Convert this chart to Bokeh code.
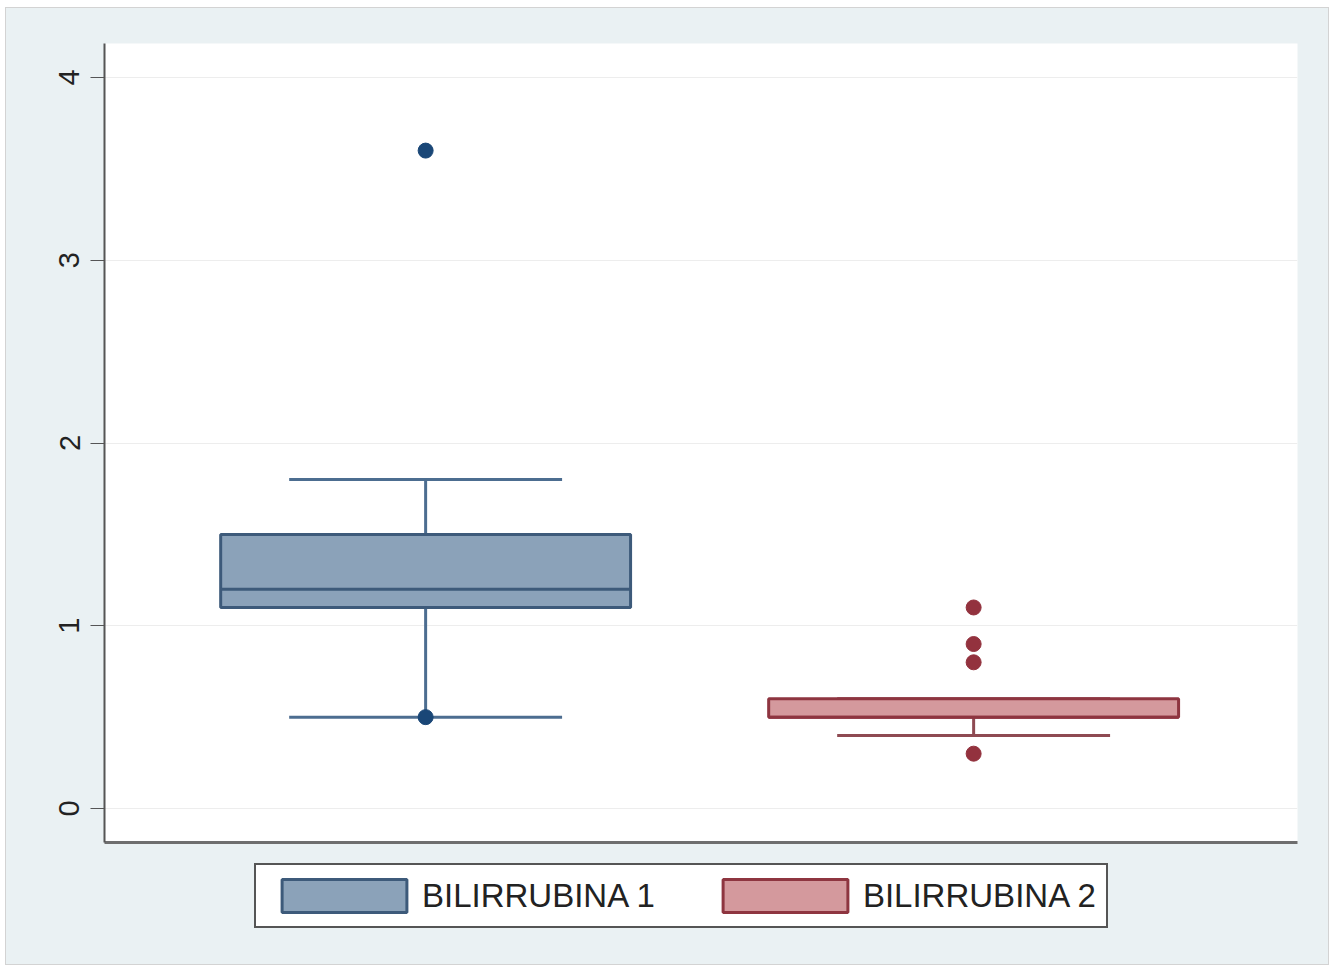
from bokeh.plotting import figure
from bokeh.layouts import column
from bokeh.models import (ColumnDataSource, Range1d, FixedTicker, Legend, LegendItem)
from bokeh.embed import file_html
from bokeh.resources import INLINE

# ---- data ----
series = ["BILIRRUBINA 1", "BILIRRUBINA 2"]
positions = [1, 2]
q1 = [1.1, 0.5]
median = [1.2, 0.5]
q3 = [1.5, 0.6]
lower_whisker = [0.5, 0.4]
upper_whisker = [1.8, 0.6]
outliers_1 = [3.6, 0.5]
outliers_2 = [1.1, 0.9, 0.8, 0.3]
y_ticks = [0, 1, 2, 3, 4]

fills = ["#8BA2B9", "#D4999D"]
edges = ["#3D5A7A", "#8E3540"]
whisk = ["#4C6D90", "#8E4A52"]
dots = ["#1A4777", "#93323E"]
outer_bg = "#EAF1F3"

box_w = 0.748
cap_w = 0.498

p = figure(width=1322, height=844, output_backend="svg", toolbar_location=None,
           x_range=Range1d(0.414, 2.591), y_range=Range1d(-0.186, 4.186),
           min_border_left=98, min_border_right=31, min_border_top=35, min_border_bottom=10)
p.background_fill_color = "white"
p.border_fill_color = outer_bg
p.outline_line_color = None

src = ColumnDataSource(dict(x=positions, q1=q1, q3=q3, med=median, lw=lower_whisker,
                            uw=upper_whisker, fill=fills, edge=edges, wc=whisk,
                            cl=[x - cap_w / 2 for x in positions],
                            cr=[x + cap_w / 2 for x in positions],
                            bl=[x - box_w / 2 for x in positions],
                            br=[x + box_w / 2 for x in positions]))

# whiskers
p.segment(x0="x", y0="q3", x1="x", y1="uw", source=src, line_color="wc", line_width=3)
p.segment(x0="x", y0="q1", x1="x", y1="lw", source=src, line_color="wc", line_width=3)
# caps
p.segment(x0="cl", y0="uw", x1="cr", y1="uw", source=src, line_color="wc", line_width=3)
p.segment(x0="cl", y0="lw", x1="cr", y1="lw", source=src, line_color="wc", line_width=3)

for i in range(2):
    p.vbar(x=[positions[i]], width=box_w, top=[q3[i]], bottom=[q1[i]],
           fill_color=fills[i], line_color=edges[i], line_width=3)
# medians
p.segment(x0="bl", y0="med", x1="br", y1="med", source=src, line_color="edge", line_width=3)

# outliers
p.scatter(x=[positions[0]] * len(outliers_1), y=outliers_1, size=15,
          fill_color=dots[0], line_color=dots[0])
p.scatter(x=[positions[1]] * len(outliers_2), y=outliers_2, size=15,
          fill_color=dots[1], line_color=dots[1])

# axes
p.yaxis.ticker = FixedTicker(ticks=y_ticks)
p.yaxis.major_label_orientation = "vertical"
p.yaxis.major_label_text_font = "Liberation Sans"
p.yaxis.major_label_text_font_size = "29px"
p.yaxis.major_label_text_color = "#222222"
p.yaxis.major_tick_out = 14
p.yaxis.major_tick_in = 0
p.yaxis.minor_tick_line_color = None
p.yaxis.major_tick_line_color = "#555555"
p.yaxis.axis_line_color = "#555555"
p.yaxis.axis_line_width = 2
p.yaxis.major_label_standoff = 11

p.xaxis.major_label_text_font_size = "0px"
p.xaxis.major_label_standoff = 0
p.xaxis.major_tick_line_color = None
p.xaxis.minor_tick_line_color = None
p.xaxis.axis_line_color = "#6E6E6E"
p.xaxis.axis_line_width = 3
p.xaxis.ticker = FixedTicker(ticks=[])

p.xgrid.grid_line_color = None
p.ygrid.grid_line_color = "#EDEDED"
p.ygrid.grid_line_width = 1

# ---- legend strip ----
p2 = figure(width=1322, height=112, output_backend="svg", toolbar_location=None,
            x_range=Range1d(0, 1), y_range=Range1d(0, 1),
            min_border=0)
p2.background_fill_color = outer_bg
p2.border_fill_color = outer_bg
p2.outline_line_color = None
p2.axis.visible = False
p2.grid.grid_line_color = None
keys = []
for i in range(2):
    # zero-size key renderers hidden beneath the legend box; only swatches show
    keys.append(p2.vbar(x=[0.5], width=0.0, top=[0.6], bottom=[0.6],
                        fill_color=fills[i], line_color=edges[i], line_width=3))

legend = Legend(items=[LegendItem(label=series[i], renderers=[keys[i]]) for i in range(2)],
                orientation="horizontal", location=(150, 36),
                glyph_width=156, glyph_height=41, label_standoff=0, spacing=52,
                padding=10, margin=0,
                border_line_color="#555555", border_line_width=2, border_line_alpha=1,
                background_fill_color="white", background_fill_alpha=1,
                label_text_font="Liberation Sans", label_text_font_size="33px",
                label_text_color="#222222")
p2.add_layout(legend, "center")

layout = column(p, p2, spacing=0,
                styles={"border": "1px solid #D3D3D3", "background-color": outer_bg,
                        "margin-left": "5px", "margin-top": "7px"})

open("out.html", "w").write(file_html(layout, INLINE))
